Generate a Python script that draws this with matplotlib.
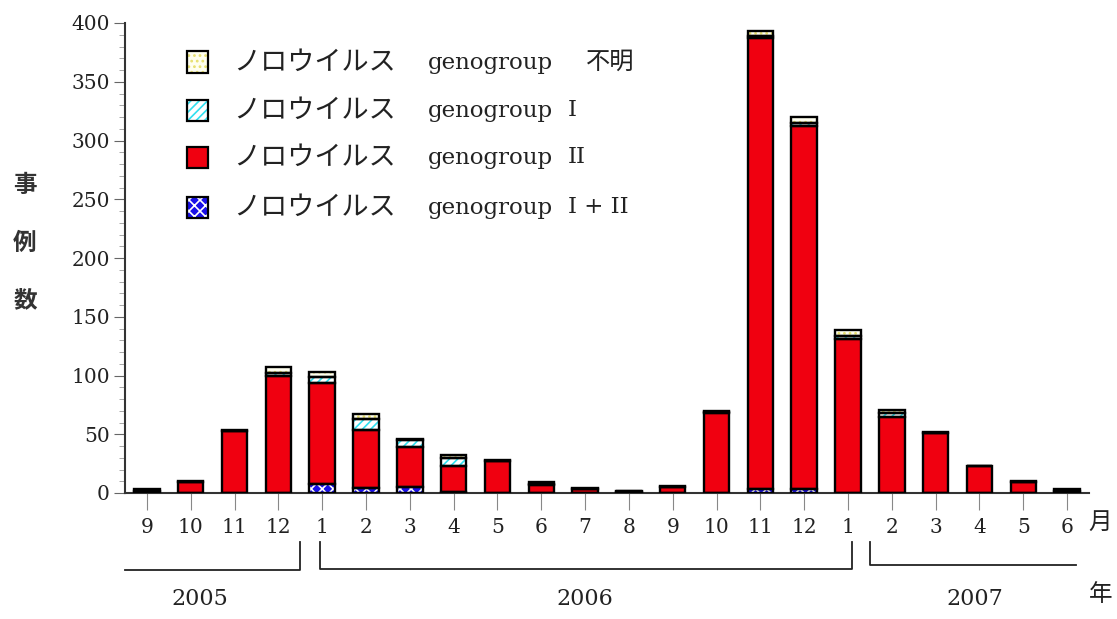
import matplotlib
matplotlib.use("Agg")
import matplotlib.pyplot as plt
from matplotlib.patches import Rectangle
from matplotlib.ticker import MultipleLocator
import numpy as np

plt.rcParams["hatch.linewidth"] = 1.2

# 2005/9 .. 2007/6
MONTHS = ["9", "10", "11", "12", "1", "2", "3", "4", "5", "6", "7", "8",
          "9", "10", "11", "12", "1", "2", "3", "4", "5", "6"]
GI_II = [0, 0, 0, 0, 8, 4, 5, 1, 0, 0, 0, 0, 0, 0, 3, 3, 0, 0, 0, 0, 0, 0]
GII = [2, 9, 53, 100, 86, 50, 34, 22, 27, 7, 3, 1, 5, 68, 384, 309, 131, 65, 51, 23, 9, 2]
GI = [0, 0, 0, 2, 5, 9, 6, 7, 0, 1, 0, 1, 0, 1, 2, 3, 3, 3, 0, 0, 0, 0]
UNKNOWN = [1, 1, 1, 5, 4, 4, 1, 2, 1, 1, 1, 0, 1, 1, 4, 5, 5, 3, 1, 0, 1, 1]
YEARS = ["2005", "2006", "2007"]
YEAR_SPANS = [(-0.5, 3.5), (3.95, 16.1), (16.5, 21.2)]

# legend labels, top row first
LEG_NAME = "ノロウイルス"
LEG_GENO = "genogroup"
LEG_SUFFIX = ["不明", "I", "II", "I + II"]

# (face, hatch, hatch colour) bottom -> top of stack
STYLES = [("#1a10e8", "xxx", "white"),
          ("#f00010", None, None),
          ("white", "////", "#30e0f0"),
          ("#fffff0", "...", "#e8e070")]
SERIES = [GI_II, GII, GI, UNKNOWN]

SERIF = "DejaVu Serif"
JP = "Noto Sans CJK JP"
W, H = 1117, 619

fig = plt.figure(figsize=(W / 100, H / 100), dpi=100)
ax = fig.add_axes([125 / W, 1 - 493 / H, (1089 - 125) / W, 470 / H])

x = np.arange(len(MONTHS))
bottom = np.zeros(len(MONTHS))
width = 0.58
for vals, (fc, hatch, hc) in zip(SERIES, STYLES):
    vals = np.array(vals, dtype=float)
    if hatch:
        ax.bar(x, vals, width, bottom=bottom, color=fc, hatch=hatch,
               edgecolor=hc, linewidth=0, zorder=2)
    else:
        ax.bar(x, vals, width, bottom=bottom, color=fc, linewidth=0, zorder=2)
    ax.bar(x, vals, width, bottom=bottom, fill=False, edgecolor="black",
           linewidth=1.7, zorder=3)
    bottom += vals

ax.set_xlim(-0.5, 21.5)
ax.set_ylim(0, 400)
ax.yaxis.set_major_locator(MultipleLocator(50))
ax.yaxis.set_minor_locator(MultipleLocator(10))
ax.set_xticks(x)
ax.set_xticklabels(MONTHS)
for s in ("top", "right"):
    ax.spines[s].set_visible(False)
for s in ("left", "bottom"):
    ax.spines[s].set_color("#333333")
    ax.spines[s].set_linewidth(1.5)
ax.tick_params(axis="y", which="major", length=8, color="#666666", labelsize=14.5, pad=3)
ax.tick_params(axis="y", which="minor", length=4, color="#999999")
ax.tick_params(axis="x", length=12, color="#888888", labelsize=14.5, pad=6)
for lab in ax.get_xticklabels() + ax.get_yticklabels():
    lab.set_family(SERIF)
    lab.set_color("#222222")

# month / year markers
trans = ax.get_xaxis_transform()
ax.text(21.76, -0.063, "月", transform=trans, ha="center", va="center",
        fontsize=17, family=JP, color="#222222")
ax.text(21.76, -0.215, "年", transform=trans, ha="center", va="center",
        fontsize=17, family=JP, color="#222222")

y_low = [-0.164, -0.162, -0.153]
for i, (x0, x1) in enumerate(YEAR_SPANS):
    yl = y_low[i]
    if i == 0:
        xs, ys = [x0, x1, x1], [yl, yl, -0.104]
    elif i == 1:
        xs, ys = [x0, x0, x1, x1], [-0.104, yl, yl, -0.104]
    else:
        xs, ys = [x0, x0, x1], [-0.104, yl, yl]
    ax.plot(xs, ys, color="#222222", lw=1.3, transform=trans, clip_on=False)
for xl, yr in zip([1.2, 10.0, 18.9], YEARS):
    ax.text(xl, -0.225, yr, transform=trans, ha="center", va="center",
            fontsize=16, family=SERIF, color="#222222")

# y label: vertical characters
for ch, yp in zip("事例数", [185, 243, 300]):
    fig.text(25 / W, 1 - yp / H, ch, ha="center", va="center",
             fontsize=17, family=JP, weight="bold", color="#333333")

# legend drawn by hand (top row = top of stack)
row_y = [62, 110, 157, 207]
for (fc, hatch, hc), suffix, yp in zip(STYLES[::-1], LEG_SUFFIX, row_y):
    x0, y0, s = 187 / W, 1 - (yp + 10.5) / H, 21
    if hatch:
        fig.add_artist(Rectangle((x0, y0), s / W, s / H, transform=fig.transFigure,
                                 facecolor=fc, hatch=hatch, edgecolor=hc, linewidth=0))
    else:
        fig.add_artist(Rectangle((x0, y0), s / W, s / H, transform=fig.transFigure,
                                 facecolor=fc, linewidth=0))
    fig.add_artist(Rectangle((x0, y0), s / W, s / H, transform=fig.transFigure,
                             fill=False, edgecolor="black", linewidth=1.6))
    fig.text(233 / W, 1 - yp / H, LEG_NAME, ha="left", va="center",
             fontsize=19.5, family=JP, color="#222222")
    fig.text(428 / W, 1 - (yp + 1) / H, LEG_GENO, ha="left", va="center",
             fontsize=16.5, family=SERIF, color="#222222")
    sx = 586 if suffix == "不明" else 568
    fig.text(sx / W, 1 - yp / H, suffix, ha="left", va="center",
             fontsize=17.5 if suffix == "不明" else 16.5,
             family=JP if suffix == "不明" else SERIF, color="#222222")

fig.savefig("out.png", dpi=100)
